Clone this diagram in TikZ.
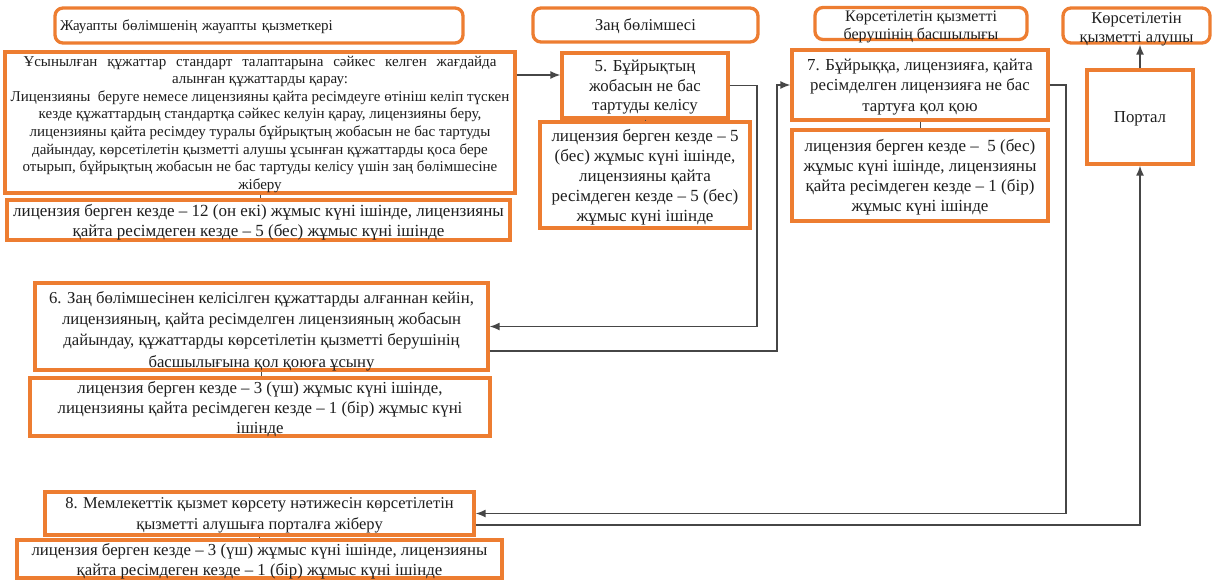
\documentclass[tikz,border=0pt]{standalone}
\usepackage{fontspec}
\setmainfont{Liberation Serif}
\usetikzlibrary{arrows.meta}
\definecolor{boxorange}{RGB}{237,125,49}
\definecolor{linkgray}{RGB}{70,70,70}
\definecolor{ink}{RGB}{30,30,30}
\newcommand{\fs}[2]{\fontsize{#1}{#2}\selectfont}
% one justified line of a given width
\newcommand{\jl}[2]{\makebox[#1pt][s]{#2}}
\tikzset{
  frame/.style={draw=boxorange, line width=3.3pt, fill=white, inner sep=0pt,
    align=center, text=ink, text depth=0pt},
  lane/.style={frame, rounded corners=8pt},
  conn/.style={draw=linkgray, line width=1.5pt},
  flow/.style={conn, -{Latex[length=10pt,width=8pt]}},
  tick/.style={draw=linkgray, line width=0.9pt},
}
\begin{document}
\begin{tikzpicture}[x=1pt,y=-1pt]
\useasboundingbox (0,0) rectangle (1217,581);

% lane headers
\node[lane, minimum width=408, minimum height=35, text width=398, align=left,
  inner xsep=5pt, font=\fs{15}{17}] (h1) at (259,25.5)
  {Жауапты бөлімшенің жауапты қызметкері};
\node[lane, minimum width=225, minimum height=34, font=\fs{16.5}{18}] (h2) at (645.5,25)
  {Заң бөлімшесі};
\node[lane, minimum width=212, minimum height=31, font=\fs{16}{18},
  text height=32pt, text depth=-1pt] (h3) at (921,23.5)
  {Көрсетілетін қызметті\\берушінің басшылығы};
\node[lane, minimum width=147, minimum height=35, font=\fs{16.5}{19},
  text height=34pt, text depth=1pt] (h4) at (1136.5,25.5)
  {Көрсетілетін\\қызметті алушы};

% step boxes
\node[frame, minimum width=510, minimum height=141, font=\fs{15}{17.6}] (b1) at (260,122.5)
  {\jl{473}{Ұсынылған құжаттар стандарт талаптарына сәйкес келген жағдайда}\\
   алынған құжаттарды қарау:\\
   Лицензияны\ \ беруге немесе лицензияны қайта ресімдеуге өтініш келіп түскен\\
   кезде құжаттардың стандартқа сәйкес келуін қарау, лицензияны беру,\\
   лицензияны қайта ресімдеу туралы бұйрықтың жобасын не бас тартуды\\
   дайындау, көрсетілетін қызметті алушы ұсынған құжаттарды қоса бере\\
   отырып, бұйрықтың жобасын не бас тартуды келісу үшін заң бөлімшесіне\\
   жіберу};
\node[frame, minimum width=503, minimum height=40, font=\fs{17}{20}] (t1) at (258.5,220)
  {лицензия берген кезде – 12 (он екі) жұмыс күні ішінде, лицензияны\\
   қайта ресімдеген кезде – 5 (бес) жұмыс күні ішінде};

\node[frame, minimum width=166, minimum height=65, font=\fs{16.8}{19.5}] (b5) at (645,85.5)
  {5. Бұйрықтың\\жобасын не бас\\тартуды келісу};
\node[frame, minimum width=210, minimum height=106, font=\fs{17}{20}] (t5) at (645,175)
  {лицензия берген кезде – 5\\(бес) жұмыс күні ішінде,\\лицензияны қайта\\
   ресімдеген кезде – 5 (бес)\\жұмыс күні ішінде};

\node[frame, minimum width=256, minimum height=70, font=\fs{16.8}{20.5}] (b7) at (920,85)
  {7. Бұйрыққа, лицензияға, қайта\\ресімделген лицензияға не бас\\тартуға қол қою};
\node[frame, minimum width=256, minimum height=91, font=\fs{17}{20}] (t7) at (920,175.5)
  {лицензия берген кезде –\ \ 5 (бес)\\жұмыс күні ішінде, лицензияны\\
   қайта ресімдеген кезде – 1 (бір)\\жұмыс күні ішінде};

\node[frame, minimum width=106, minimum height=94, font=\fs{16.8}{18}] (portal) at (1140,117)
  {Портал};

\node[frame, minimum width=453, minimum height=87, font=\fs{16.7}{21.3},
  text height=84pt, text depth=3pt] (b6) at (261.5,326.5)
  {6. Заң бөлімшесінен келісілген құжаттарды алғаннан кейін,\\
   лицензияның, қайта ресімделген лицензияның жобасын\\
   дайындау, құжаттарды көрсетілетін қызметті берушінің\\
   басшылығына қол қоюға ұсыну};
\node[frame, minimum width=460, minimum height=58, font=\fs{16.8}{20}] (t6) at (260,407)
  {лицензия берген кезде – 3 (үш) жұмыс күні ішінде,\\
   лицензияны қайта ресімдеген кезде – 1 (бір) жұмыс күні\\
   ішінде};

\node[frame, minimum width=429, minimum height=43, font=\fs{16.5}{21}] (b8) at (259.5,513.5)
  {8. Мемлекеттік қызмет көрсету нәтижесін көрсетілетін\\
   қызметті алушыға порталға жіберу};
\node[frame, minimum width=485, minimum height=38, font=\fs{16.8}{20}] (t8) at (259.5,559)
  {лицензия берген кезде – 3 (үш) жұмыс күні ішінде, лицензияны\\
   қайта ресімдеген кезде – 1 (бір) жұмыс күні ішінде};

% short links from each step to its time limit
\draw[tick] (b1.south) -- (b1.south |- t1.north);
\draw[tick] (b5.south) -- (b5.south |- t5.north);
\draw[tick] (b7.south) -- (b7.south |- t7.north);
\draw[tick] (b6.south) -- (b6.south |- t6.north);
\draw[tick] (b8.south) -- (b8.south |- t8.north);

% bend points of the flow lines
\coordinate (k1) at (515,75);
\coordinate (k2) at (757,326.5);
\coordinate (k3) at (777,351);
\coordinate (k4) at (1066,513.5);
\coordinate (k5) at (1140,525);

% flow between the steps
\draw[flow] (b1.east |- k1) -- (b5.west |- k1);
\draw[flow] (b5.east) -| (k2) -- (b6.east);
\draw[flow] (b6.east |- k3) -- (k3) |- (b7.west);
\draw[flow] (b7.east) -| (k4) -- (b8.east);
\draw[flow] (b8.east |- k5) -- (k5) -- (portal.south);
\draw[flow] (portal.north) -- (portal.north |- h4.south);
\end{tikzpicture}
\end{document}
